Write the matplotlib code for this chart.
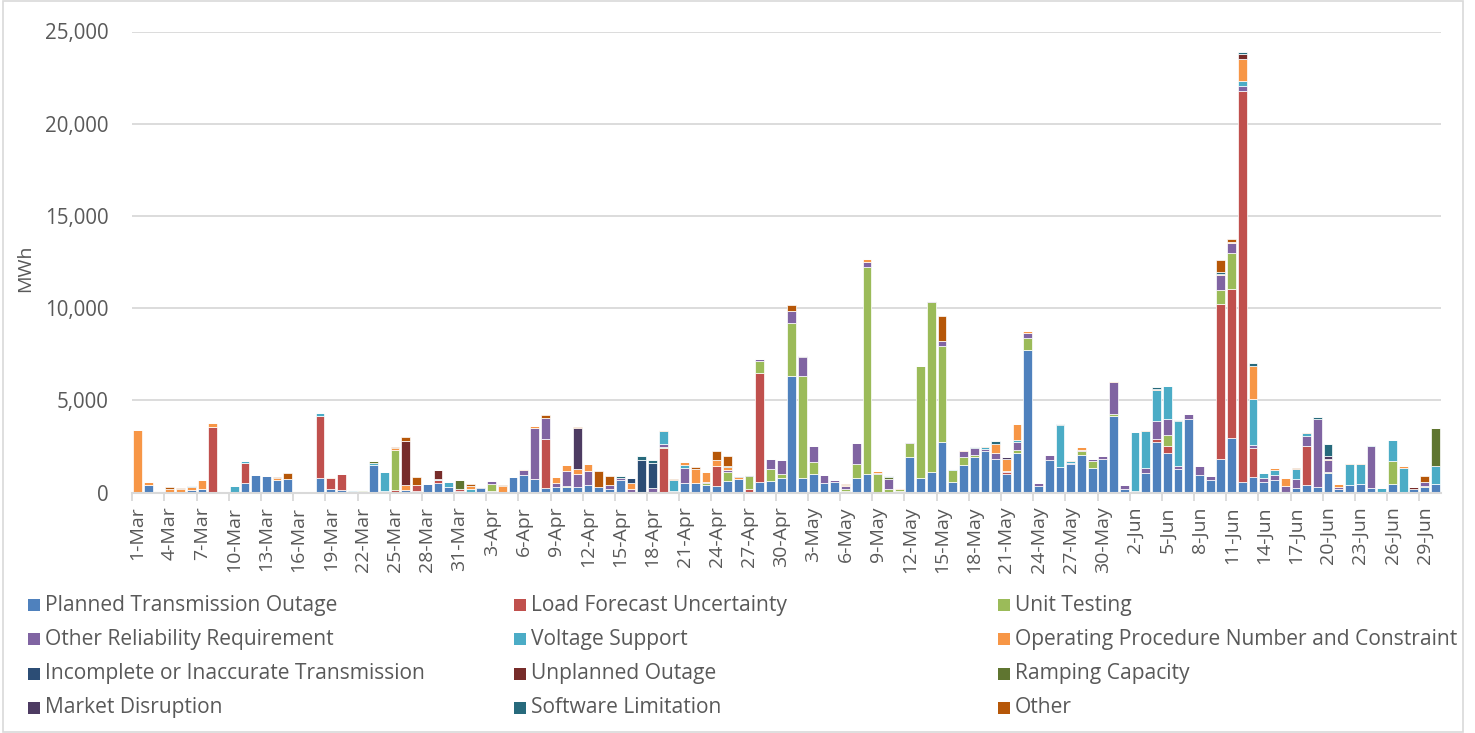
import numpy as np
import pandas as pd
import matplotlib
matplotlib.use("Agg")
import matplotlib.pyplot as plt
from matplotlib.patches import Rectangle
from matplotlib.ticker import FuncFormatter, FixedLocator

# Daily categories, 1-Mar through 30-Jun
days = pd.date_range("2019-03-01", "2019-06-30", freq="D")
day_labels = [f"{d.day}-{d:%b}" for d in days]

# Daily MWh per reason (days not listed are zero)
planned_transmission_outage = {
    "2-Mar": 420, "6-Mar": 150, "7-Mar": 180, "11-Mar": 510, "12-Mar": 940, "13-Mar": 890,
    "14-Mar": 690, "15-Mar": 740, "18-Mar": 800, "19-Mar": 200, "20-Mar": 160, "21-Mar": 110,
    "22-Mar": 100, "23-Mar": 1520, "26-Mar": 160, "27-Mar": 90, "28-Mar": 470, "29-Mar": 525,
    "30-Mar": 325, "31-Mar": 90, "2-Apr": 270, "3-Apr": 90, "5-Apr": 830, "6-Apr": 940,
    "7-Apr": 740, "8-Apr": 270, "9-Apr": 325, "10-Apr": 325, "11-Apr": 290, "12-Apr": 415,
    "13-Apr": 290, "14-Apr": 200, "15-Apr": 700, "20-Apr": 90, "21-Apr": 525, "22-Apr": 525,
    "23-Apr": 415, "24-Apr": 380, "25-Apr": 630, "26-Apr": 740, "28-Apr": 600, "29-Apr": 630,
    "30-Apr": 810, "1-May": 6300, "2-May": 810, "3-May": 1010, "4-May": 540, "5-May": 600,
    "6-May": 90, "7-May": 800, "8-May": 1010, "11-May": 110, "12-May": 1950, "13-May": 810,
    "14-May": 1120, "15-May": 2770, "16-May": 600, "17-May": 1480, "18-May": 1950,
    "19-May": 2280, "20-May": 1850, "21-May": 1010, "22-May": 2170, "23-May": 7710,
    "24-May": 380, "25-May": 1760, "26-May": 1380, "27-May": 1540, "28-May": 2050,
    "29-May": 1320, "30-May": 1830, "31-May": 4180, "1-Jun": 200, "3-Jun": 1050,
    "4-Jun": 2770, "5-Jun": 2140, "6-Jun": 1270, "7-Jun": 3980, "8-Jun": 960, "9-Jun": 690,
    "10-Jun": 1810, "11-Jun": 2990, "12-Jun": 600, "13-Jun": 850, "14-Jun": 600,
    "15-Jun": 690, "17-Jun": 270, "18-Jun": 400, "19-Jun": 310, "20-Jun": 1050,
    "21-Jun": 220, "22-Jun": 415, "23-Jun": 470, "24-Jun": 270, "26-Jun": 470,
    "28-Jun": 180, "29-Jun": 310, "30-Jun": 470,
}
load_forecast_uncertainty = {
    "8-Mar": 3580, "11-Mar": 1120, "18-Mar": 3380, "19-Mar": 600, "20-Mar": 830, "24-Mar": 90,
    "25-Mar": 160, "27-Mar": 310, "29-Mar": 180, "31-Mar": 90, "8-Apr": 2620, "19-Apr": 2440,
    "24-Apr": 1050, "27-Apr": 200, "28-Apr": 5900, "21-May": 100, "4-Jun": 130, "5-Jun": 400,
    "10-Jun": 8440, "11-Jun": 8070, "12-Jun": 21180, "13-Jun": 1570, "18-Jun": 2150,
}
unit_testing = {
    "20-Mar": 50, "22-Mar": 30, "25-Mar": 2170, "3-Apr": 380, "10-Apr": 50, "19-Apr": 50,
    "23-Apr": 110, "25-Apr": 490, "27-Apr": 700, "28-Apr": 640, "29-Apr": 630, "30-Apr": 200,
    "1-May": 2915, "2-May": 5540, "3-May": 670, "6-May": 130, "7-May": 740, "8-May": 11210,
    "9-May": 1000, "10-May": 180, "11-May": 70, "12-May": 760, "13-May": 6070, "14-May": 9240,
    "15-May": 5160, "16-May": 630, "17-May": 470, "18-May": 70, "22-May": 145, "23-May": 690,
    "28-May": 220, "29-May": 400, "31-May": 70, "5-Jun": 600, "10-Jun": 750, "11-Jun": 1940,
    "20-Jun": 90, "26-Jun": 1270, "29-Jun": 50,
}
other_reliability_requirement = {
    "3-Apr": 160, "6-Apr": 270, "7-Apr": 2790, "8-Apr": 1180, "9-Apr": 200, "10-Apr": 800,
    "11-Apr": 720, "12-Apr": 780, "14-Apr": 200, "15-Apr": 90, "16-Apr": 220, "18-Apr": 270,
    "19-Apr": 160, "21-Apr": 800, "23-Apr": 50, "25-Apr": 110, "28-Apr": 110, "29-Apr": 540,
    "30-Apr": 760, "1-May": 655, "2-May": 980, "3-May": 850, "4-May": 420, "5-May": 100,
    "6-May": 145, "7-May": 1140, "8-May": 270, "9-May": 70, "10-May": 560, "11-May": 30,
    "12-May": 50, "14-May": 50, "15-May": 310, "17-May": 325, "18-May": 400, "19-May": 90,
    "20-May": 290, "21-May": 50, "22-May": 430, "23-May": 240, "24-May": 145, "25-May": 290,
    "27-May": 70, "28-May": 70, "29-May": 110, "30-May": 180, "31-May": 1770, "1-Jun": 220,
    "2-Jun": 90, "3-Jun": 270, "4-Jun": 1010, "5-Jun": 850, "6-Jun": 180, "7-Jun": 270,
    "8-Jun": 510, "9-Jun": 220, "10-Jun": 790, "11-Jun": 520, "12-Jun": 250, "13-Jun": 160,
    "14-Jun": 220, "15-Jun": 250, "16-Jun": 380, "17-Jun": 470, "18-Jun": 525,
    "19-Jun": 3660, "20-Jun": 630, "21-Jun": 70, "24-Jun": 2280, "28-Jun": 20, "29-Jun": 200,
}
voltage_support = {
    "10-Mar": 380, "11-Mar": 110, "18-Mar": 160, "21-Mar": 20, "23-Mar": 110, "24-Mar": 1010,
    "29-Mar": 50, "30-Mar": 250, "1-Apr": 200, "19-Apr": 690, "20-Apr": 600, "21-Apr": 200,
    "16-May": 70, "19-May": 90, "22-May": 110, "26-May": 2300, "27-May": 110, "2-Jun": 3220,
    "3-Jun": 2030, "4-Jun": 1670, "5-Jun": 1810, "6-Jun": 2460, "12-Jun": 270,
    "13-Jun": 2510, "14-Jun": 235, "15-Jun": 290, "17-Jun": 525, "18-Jun": 145,
    "22-Jun": 1140, "23-Jun": 1070, "24-Jun": 40, "25-Jun": 270, "26-Jun": 1120,
    "27-Jun": 1320, "30-Jun": 1000,
}
operating_procedure = {
    "1-Mar": 3400, "2-Mar": 160, "3-Mar": 110, "4-Mar": 180, "5-Mar": 220, "6-Mar": 150,
    "7-Mar": 520, "8-Mar": 180, "14-Mar": 110, "19-Mar": 70, "25-Mar": 110, "26-Mar": 250,
    "1-Apr": 160, "4-Apr": 360, "6-Apr": 50, "7-Apr": 70, "9-Apr": 325, "10-Apr": 310,
    "11-Apr": 290, "12-Apr": 340, "16-Apr": 290, "17-Apr": 50, "19-Apr": 50, "21-Apr": 160,
    "22-Apr": 780, "23-Apr": 540, "24-Apr": 360, "25-Apr": 180, "26-Apr": 90, "6-May": 50,
    "8-May": 200, "9-May": 130, "11-May": 20, "17-May": 20, "19-May": 50, "20-May": 490,
    "21-May": 690, "22-May": 850, "23-May": 110, "25-May": 20, "27-May": 50, "28-May": 145,
    "29-May": 20, "31-May": 50, "3-Jun": 50, "4-Jun": 50, "10-Jun": 90, "11-Jun": 70,
    "12-Jun": 1230, "13-Jun": 1790, "15-Jun": 90, "16-Jun": 420, "18-Jun": 70, "20-Jun": 50,
    "21-Jun": 180, "22-Jun": 50, "23-Jun": 50, "27-Jun": 110, "29-Jun": 40,
}
incomplete_transmission = {
    "2-Apr": 30, "16-Apr": 290, "17-Apr": 1740, "18-Apr": 1320, "26-Apr": 50, "27-Apr": 50,
}
unplanned_outage = {"26-Mar": 2390, "29-Mar": 470, "12-Jun": 240, "28-Jun": 130}
ramping_capacity = {"23-Mar": 70, "31-Mar": 510, "10-May": 130, "30-Jun": 2060}
market_disruption = {"11-Apr": 2190, "2-May": 90, "21-May": 110, "20-Jun": 145}
software_limitation = {
    "6-Mar": 70, "12-Mar": 40, "13-Mar": 30, "6-Apr": 50, "15-Apr": 90, "17-Apr": 220,
    "18-Apr": 200, "25-Apr": 50, "10-May": 40, "18-May": 50, "20-May": 160, "26-May": 50,
    "4-Jun": 90, "6-Jun": 40, "10-Jun": 110, "12-Jun": 130, "13-Jun": 150, "19-Jun": 110,
    "20-Jun": 670,
}
other = {
    "4-Mar": 150, "5-Mar": 50, "14-Mar": 50, "15-Mar": 320, "22-Mar": 40, "25-Mar": 50,
    "26-Mar": 200, "27-Mar": 450, "1-Apr": 110, "4-Apr": 50, "8-Apr": 160, "11-Apr": 50,
    "13-Apr": 890, "14-Apr": 490, "20-Apr": 50, "22-Apr": 70, "24-Apr": 470, "25-Apr": 520,
    "1-May": 280, "6-May": 50, "7-May": 40, "15-May": 1340, "19-May": 20, "10-Jun": 610,
    "11-Jun": 150, "17-Jun": 50, "29-Jun": 310,
}

series = [
    ("Planned Transmission Outage", planned_transmission_outage, "#4F81BD"),
    ("Load Forecast Uncertainty", load_forecast_uncertainty, "#C0504D"),
    ("Unit Testing", unit_testing, "#9BBB59"),
    ("Other Reliability Requirement", other_reliability_requirement, "#8064A2"),
    ("Voltage Support", voltage_support, "#4BACC6"),
    ("Operating Procedure Number and Constraint", operating_procedure, "#F79646"),
    ("Incomplete or Inaccurate Transmission", incomplete_transmission, "#2C4D75"),
    ("Unplanned Outage", unplanned_outage, "#772C2A"),
    ("Ramping Capacity", ramping_capacity, "#5F7530"),
    ("Market Disruption", market_disruption, "#4D3B62"),
    ("Software Limitation", software_limitation, "#276A7C"),
    ("Other", other, "#B65708"),
]

# One row per day, one column per reason; missing days become zero
table = pd.DataFrame({name: pd.Series(vals, dtype=float) for name, vals, _ in series})
table = table.reindex(day_labels).fillna(0.0)

FONT = "Open Sans"
TXT = "#595959"
GRID = "#D9D9D9"

W, H = 1475, 733
fig = plt.figure(figsize=(W / 100, H / 100), dpi=100)
ax_left, ax_right, ax_bottom, ax_top = 132.3, 1440.7, 492.7, 31.5
ax = fig.add_axes([ax_left / W, 1 - ax_bottom / H, (ax_right - ax_left) / W,
                   (ax_bottom - ax_top) / H])

x = np.arange(len(day_labels))
bottom = np.zeros(len(day_labels))
for name, _, color in series:
    vals = table[name].to_numpy()
    ax.bar(x, vals, width=0.82, bottom=bottom, color=color, edgecolor="white",
           linewidth=0.5, zorder=3)
    bottom += vals

ax.set_xlim(-0.5, len(day_labels) - 0.5)
ax.set_ylim(0, 25000)
ax.set_yticks(np.arange(0, 25001, 5000))
ax.yaxis.set_major_formatter(FuncFormatter(lambda v, p: f"{int(v):,}"))
ax.grid(axis="y", color=GRID, linewidth=1.3, zorder=0)
ax.set_axisbelow(True)

for side in ("top", "right", "left"):
    ax.spines[side].set_visible(False)
ax.spines["bottom"].set_color(GRID)
ax.spines["bottom"].set_linewidth(1.5)
ax.spines["bottom"].set_zorder(4)

label_pos = x[::3]
ax.set_xticks(label_pos)
ax.set_xticklabels([day_labels[i] for i in label_pos], rotation=90,
                   fontsize=14, family=FONT, color=TXT)
ax.tick_params(axis="x", which="major", length=0, pad=10)
ax.xaxis.set_minor_locator(FixedLocator(np.arange(-0.5, len(day_labels) - 1, 3)))
ax.tick_params(axis="x", which="minor", length=6, width=1.3, color=GRID)
ax.tick_params(axis="y", length=0, pad=17)
for lbl in ax.get_yticklabels():
    lbl.set_fontsize(14.8)
    lbl.set_family(FONT)
    lbl.set_color(TXT)

fig.text(25 / W, 1 - 268 / H, "MWh", rotation=90, ha="center", va="center",
         fontsize=14, family=FONT, color=TXT)

# Legend: three columns, four rows, filled row by row
col_x = [28, 514, 998]
row_y = [605, 639, 673.5, 707.5]
for k, (name, _, color) in enumerate(series):
    r, c = divmod(k, 3)
    px, py = col_x[c], row_y[r]
    fig.patches.append(Rectangle((px / W, 1 - (py + 6) / H), 12 / W, 12 / H,
                                 transform=fig.transFigure, facecolor=color,
                                 edgecolor="none"))
    fig.text((px + 17) / W, 1 - py / H, name, ha="left", va="center",
             fontsize=15.1, family=FONT, color=TXT)

# Chart border
fig.patches.append(Rectangle((3 / W, 1 / H), 1460 / W, 731 / H, transform=fig.transFigure,
                             facecolor="none", edgecolor=GRID, linewidth=1.2))

fig.savefig("out.png", dpi=100)
